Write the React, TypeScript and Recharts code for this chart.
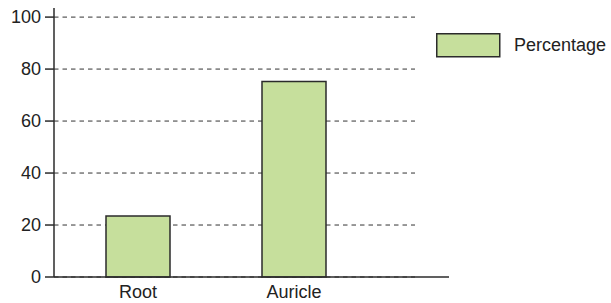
import React from "react";
import { BarChart, Bar, XAxis, YAxis, CartesianGrid, Legend } from "recharts";

const categories = ["Root", "Auricle"];
const percentage = [23.5, 75.2];
const yTicks = [0, 20, 40, 60, 80, 100];
const seriesName = "Percentage";

const data = categories.map((name, i) => ({ name, value: percentage[i] }));

const FILL = "#c6df9c";
const STROKE = "#2b2b2b";
const FONT = "Liberation Sans, Arial, sans-serif";

const LegendContent = () => (
  <div style={{ display: "flex", alignItems: "center", fontFamily: FONT }}>
    <svg width={65} height={25} style={{ display: "block" }}>
      <rect x={0.75} y={0.75} width={63} height={23} fill={FILL} stroke={STROKE} strokeWidth={1.5} />
    </svg>
    <span style={{ marginLeft: 13, fontSize: 18, color: "#222" }}>{seriesName}</span>
  </div>
);

export default function App() {
  return (
    <div style={{ position: "absolute", left: 0, top: 0 }}>
      <BarChart
        width={611}
        height={303}
        data={data}
        margin={{ top: 8, right: 162, bottom: 0, left: 0 }}
      >
        <CartesianGrid
          vertical={false}
          horizontalValues={yTicks}
          stroke="#333"
          strokeDasharray="4.5 4"
          width={361}
        />
        <XAxis
          dataKey="name"
          height={26}
          tickLine={false}
          tickSize={0}
          tickMargin={8}
          padding={{ left: 6, right: 77 }}
          axisLine={{ stroke: STROKE, strokeWidth: 1.5 }}
          tick={{ fill: "#222", fontSize: 18, fontFamily: FONT }}
        />
        <YAxis
          width={54}
          domain={[0, 103.5]}
          ticks={yTicks}
          interval={0}
          tickSize={9}
          tickMargin={4}
          axisLine={{ stroke: STROKE, strokeWidth: 1.5 }}
          tickLine={{ stroke: STROKE, strokeWidth: 1.5 }}
          tick={{ fill: "#222", fontSize: 18, fontFamily: FONT }}
        />
        <Legend
          layout="horizontal"
          align="center"
          verticalAlign="middle"
          content={<LegendContent />}
          wrapperStyle={{ position: "absolute", top: 33, left: 436, width: "auto" }}
        />
        <Bar
          dataKey="value"
          name={seriesName}
          fill={FILL}
          stroke={STROKE}
          strokeWidth={1.5}
          barSize={64}
          isAnimationActive={false}
        />
      </BarChart>
    </div>
  );
}
